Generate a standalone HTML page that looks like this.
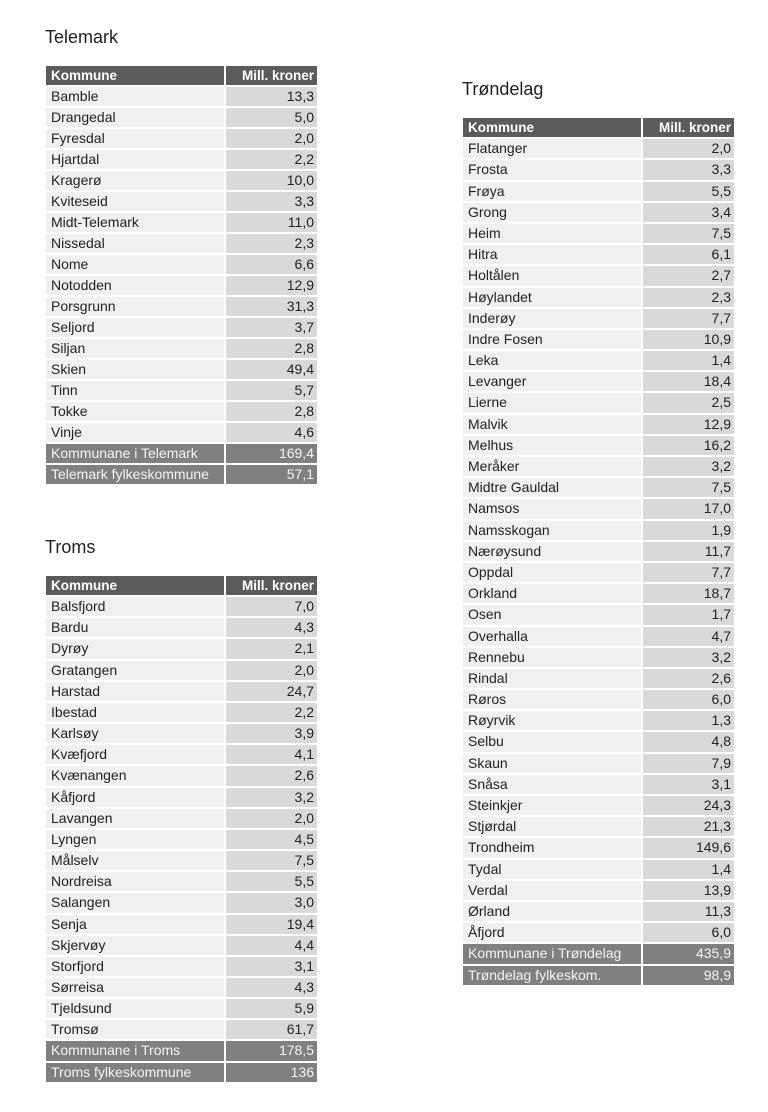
<!DOCTYPE html>
<html><head><meta charset="utf-8"><style>
body{margin:0;width:768px;height:1112px;background:#fff;position:relative;font-family:"Liberation Sans",sans-serif;color:#222;overflow:hidden}
.title{position:absolute;font-size:18px;color:#222}
.tb{position:absolute}
.r{display:flex;margin-bottom:2px;font-size:14px;line-height:19px}
.r div{box-sizing:border-box}
.a{background:#f0f0f0;padding-left:5px}
.b{background:#d9d9d9;margin-left:2px;text-align:right;padding-right:3px}
.h .a,.h .b{background:#5b5b5b;color:#fff;font-weight:bold;font-size:13.5px}
.s .a,.s .b{background:#808080;color:#f4f4f4}
#t1 .r{height:19px}
#t2 .r{height:19.2px}
#t3 .r{height:19.17px}
</style></head><body>
<div class="title" style="left:45px;top:27px">Telemark</div>
<div class="title" style="left:462px;top:79px">Trøndelag</div>
<div class="title" style="left:45px;top:537px">Troms</div>

<div class="tb" id="t1" style="left:46px;top:66px"></div>
<div class="tb" id="t2" style="left:463px;top:118px"></div>
<div class="tb" id="t3" style="left:46px;top:576px"></div>

<script>
function build(id,wa,wb,rows,sum){
 var h='<div class="r h"><div class="a" style="width:'+wa+'px">Kommune</div><div class="b" style="width:'+wb+'px">Mill. kroner</div></div>';
 rows.forEach(function(x){h+='<div class="r"><div class="a" style="width:'+wa+'px">'+x[0]+'</div><div class="b" style="width:'+wb+'px">'+x[1]+'</div></div>';});
 sum.forEach(function(x){h+='<div class="r s"><div class="a" style="width:'+wa+'px">'+x[0]+'</div><div class="b" style="width:'+wb+'px">'+x[1]+'</div></div>';});
 document.getElementById(id).innerHTML=h;
}
function p(s){return s.split('|').map(function(x){return x.split(':');});}
build('t1',178,91,p("Bamble:13,3|Drangedal:5,0|Fyresdal:2,0|Hjartdal:2,2|Kragerø:10,0|Kviteseid:3,3|Midt-Telemark:11,0|Nissedal:2,3|Nome:6,6|Notodden:12,9|Porsgrunn:31,3|Seljord:3,7|Siljan:2,8|Skien:49,4|Tinn:5,7|Tokke:2,8|Vinje:4,6"),p("Kommunane i Telemark:169,4|Telemark fylkeskommune:57,1"));
build('t2',178,91,p("Flatanger:2,0|Frosta:3,3|Frøya:5,5|Grong:3,4|Heim:7,5|Hitra:6,1|Holtålen:2,7|Høylandet:2,3|Inderøy:7,7|Indre Fosen:10,9|Leka:1,4|Levanger:18,4|Lierne:2,5|Malvik:12,9|Melhus:16,2|Meråker:3,2|Midtre Gauldal:7,5|Namsos:17,0|Namsskogan:1,9|Nærøysund:11,7|Oppdal:7,7|Orkland:18,7|Osen:1,7|Overhalla:4,7|Rennebu:3,2|Rindal:2,6|Røros:6,0|Røyrvik:1,3|Selbu:4,8|Skaun:7,9|Snåsa:3,1|Steinkjer:24,3|Stjørdal:21,3|Trondheim:149,6|Tydal:1,4|Verdal:13,9|Ørland:11,3|Åfjord:6,0"),p("Kommunane i Trøndelag:435,9|Trøndelag fylkeskom.:98,9"));
build('t3',178,91,p("Balsfjord:7,0|Bardu:4,3|Dyrøy:2,1|Gratangen:2,0|Harstad:24,7|Ibestad:2,2|Karlsøy:3,9|Kvæfjord:4,1|Kvænangen:2,6|Kåfjord:3,2|Lavangen:2,0|Lyngen:4,5|Målselv:7,5|Nordreisa:5,5|Salangen:3,0|Senja:19,4|Skjervøy:4,4|Storfjord:3,1|Sørreisa:4,3|Tjeldsund:5,9|Tromsø:61,7"),p("Kommunane i Troms:178,5|Troms fylkeskommune:136"));
</script>
</body></html>
